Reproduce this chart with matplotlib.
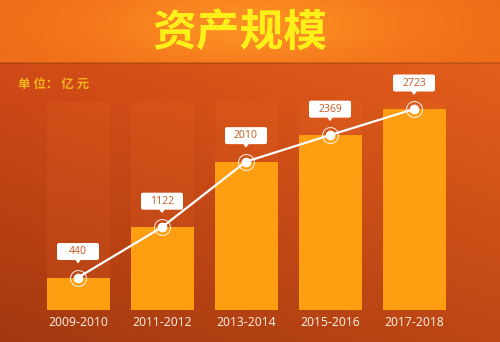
import numpy as np
import matplotlib
matplotlib.use("Agg")
import matplotlib.pyplot as plt
import matplotlib.transforms as mtransforms
from matplotlib.patches import FancyBboxPatch, Polygon

plt.rcParams['font.family'] = ['Noto Sans CJK SC', 'DejaVu Sans']

# Data
periods = ["2009-2010", "2011-2012", "2013-2014", "2015-2016", "2017-2018"]
assets = [440, 1122, 2010, 2369, 2723]
title = "资产规模"
unit_label = "单 位： 亿 元"

W, H = 500, 342
fig = plt.figure(figsize=(W / 100, H / 100), dpi=100)

# Background: orange header band and a darker red-orange lower panel
bg = fig.add_axes([0, 0, 1, 1])
bg.set_xlim(0, W)
bg.set_ylim(H, 0)
bg.axis("off")

yy, xx = np.mgrid[0:H, 0:W].astype(float)
img = np.zeros((H, W, 3))
top = np.array([0.94, 0.42, 0.09])
glow = np.array([0.99, 0.56, 0.14])
d = np.exp(-(((xx - 250) / 160) ** 2 + ((yy - 25) / 45) ** 2))
img[:] = top * (1 - d[..., None]) + glow * d[..., None]

low_left = np.array([0.82, 0.29, 0.09])
low_right = np.array([0.89, 0.37, 0.11])
bottom_left = np.array([0.64, 0.22, 0.06])
bottom_right = np.array([0.74, 0.28, 0.08])
fx = (xx / W)[..., None]
fy = np.clip((yy - 63) / (H - 63), 0, 1)[..., None]
lower = ((low_left * (1 - fx) + low_right * fx) * (1 - fy)
         + (bottom_left * (1 - fx) + bottom_right * fx) * fy)
mask = yy >= 63
img[mask] = lower[mask]
img[62:64] *= 0.85
bg.imshow(img, extent=(0, W, H, 0), aspect="auto", zorder=0)

# Chart axes in pixel layout: baseline at y=310, x slots 84 px wide starting at 36
k = 201 / 2723
ymax = 3000
ax_left, ax_width = 36, 420
ax_bottom = 310
ax_top = ax_bottom - ymax * k
ax = fig.add_axes([ax_left / W, (H - ax_bottom) / H, ax_width / W, (ax_bottom - ax_top) / H])
ax.set_xlim(-0.5, len(periods) - 0.5)
ax.set_ylim(0, ymax)
ax.patch.set_alpha(0)
for s in ax.spines.values():
    s.set_visible(False)
ax.set_yticks([])
ax.tick_params(axis="x", length=0, pad=4)
x = np.arange(len(periods))
ax.set_xticks(x)
ax.set_xticklabels(periods, color="#fbe9dc", fontsize=8.8, family=["Noto Sans", "DejaVu Sans"])

# Faint shaded columns behind the bars
col_top_val = (ax_bottom - 102) / k
ax.bar(x, [col_top_val] * len(x), width=0.75, color="#ff7a30", alpha=0.11,
       zorder=1, clip_on=False)

ax.bar(x, assets, width=0.75, color="#ff9e10", zorder=2)

# Trend line with ringed markers
ax.plot(x, assets, color="white", lw=1.6, zorder=3)
ax.plot(x, assets, "o", ms=11.5, mfc="none", mec="white", mew=0.8, alpha=0.8, zorder=4)
ax.plot(x, assets, "o", ms=6, color="white", zorder=5)

# Value callouts: white rounded box with a small pointer, 26 px above the point
fig.canvas.draw()
bw, bh, lift = 42, 17, 26
for xi, v in zip(x, assets):
    px, py = ax.transData.transform((xi, v))
    cy = py + lift
    box = FancyBboxPatch((px - bw / 2 + 2, cy - bh / 2 + 2), bw - 4, bh - 4,
                         boxstyle="round,pad=2,rounding_size=2",
                         transform=mtransforms.IdentityTransform(),
                         fc="white", ec="none", zorder=6)
    fig.add_artist(box)
    tip = Polygon([[px - 3, cy - bh / 2 + 0.5], [px + 3, cy - bh / 2 + 0.5],
                   [px, cy - bh / 2 - 3.5]], closed=True,
                  transform=mtransforms.IdentityTransform(),
                  fc="white", ec="none", zorder=6)
    fig.add_artist(tip)
    fig.text(px / W, cy / H, f"{v}", ha="center", va="center", fontsize=7.5,
             color="#c8642c", family=["Noto Sans", "DejaVu Sans"], zorder=7)

# Header texts
bg.text(240, 33, title, ha="center", va="center", fontsize=31.5,
        fontweight="bold", color="#fff01a", zorder=5)
bg.text(18, 84, unit_label, ha="left", va="center", fontsize=9,
        fontweight="bold", color="#f4b41e", zorder=5)

fig.savefig("out.png", dpi=100)
